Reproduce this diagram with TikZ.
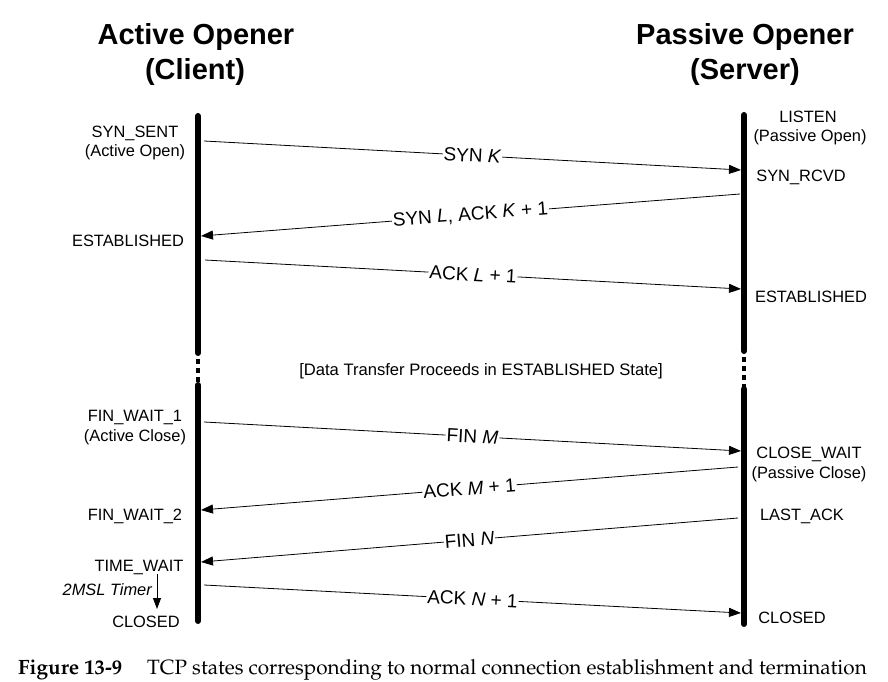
\documentclass[tikz,border=0pt]{standalone}
\usepackage[T1]{fontenc}
\usepackage{fontspec}
\setmainfont{Liberation Sans}
\usetikzlibrary{arrows.meta}
\newcommand{\figcapfont}{\fontencoding{T1}\fontfamily{ppl}\selectfont}

\begin{document}
\begin{tikzpicture}[x=1pt, y=-1pt,
  host/.style={font=\fontsize{29}{33}\selectfont\bfseries, inner sep=0pt, anchor=base},
  state/.style={font=\fontsize{16.4}{20}\selectfont, inner sep=0pt, anchor=base},
  timeline/.style={line width=6pt, line cap=round},
  gap/.style={line width=3.5pt, dash pattern=on 5pt off 4pt},
  msg/.style={-{Triangle[length=12pt,width=9pt]}, line width=0.8pt},
  msglabel/.style={font=\fontsize{19}{22}\selectfont, fill=white, inner sep=1pt, sloped, midway},
  figcap/.style={font=\figcapfont\fontsize{20.7}{24}\selectfont, inner sep=0pt, anchor=base west}]

\useasboundingbox (0,0) rectangle (888,682);

\node[host] (clienthead) at (196,45) {Active Opener};
\node[host] (clientsub) at (195,80) {(Client)};
\node[host] (serverhead) at (745,45) {Passive Opener};
\node[host] (serversub) at (745,80) {(Server)};

% time lines
\coordinate (ctop) at (198,116);
\coordinate (cbreak1) at (198,350);
\coordinate (cbreak2) at (198,388);
\coordinate (cend) at (198,621);
\coordinate (stop) at (744,115);
\coordinate (sbreak1) at (744,348);
\coordinate (sbreak2) at (744,392);
\coordinate (send) at (744,624);

\draw[timeline] (ctop) -- ([yshift=-3pt]cbreak1);
\draw[gap] (cbreak1) -- (cbreak2);
\draw[timeline] ([yshift=3pt]cbreak2) -- (cend);
\draw[timeline] (stop) -- ([yshift=-3pt]sbreak1);
\draw[gap] (sbreak1) -- (sbreak2);
\draw[timeline] ([yshift=3pt]sbreak2) -- (send);

% client states
\node[state] (synsent) at (135,137) {SYN\_SENT};
\node[state] (activeopen) at (135,157) {(Active Open)};
\node[state] (cestab) at (128,246) {ESTABLISHED};
\node[state] (finwait1) at (135,421) {FIN\_WAIT\_1};
\node[state] (activeclose) at (135,441) {(Active Close)};
\node[state] (finwait2) at (135,520) {FIN\_WAIT\_2};
\node[state] (timewait) at (139,571) {TIME\_WAIT};
\node[state, font=\fontsize{16.4}{20}\selectfont\itshape, anchor=base east] (timer) at (152,595) {2MSL Timer};
\node[state] (cclosed) at (146,627) {CLOSED};

% server states
\node[state] (listen) at (808,122) {LISTEN};
\node[state] (passiveopen) at (810,142) {(Passive Open)};
\node[state] (synrcvd) at (801,181) {SYN\_RCVD};
\node[state] (sestab) at (811,302) {ESTABLISHED};
\node[state] (closewait) at (809,458) {CLOSE\_WAIT};
\node[state] (passiveclose) at (809,478) {(Passive Close)};
\node[state] (lastack) at (802,520) {LAST\_ACK};
\node[state] (sclosed) at (792,623) {CLOSED};

\node[state, font=\fontsize{16.6}{20}\selectfont] (datatransfer) at (481,375) {[Data Transfer Proceeds in ESTABLISHED State]};

% message end points
\coordinate (c1) at (204,141);
\coordinate (s1) at (741,170);
\coordinate (s2) at (740,194);
\coordinate (c2) at (201,236);
\coordinate (c3) at (205,260);
\coordinate (s3) at (741,289);
\coordinate (c4) at (204,422);
\coordinate (s4) at (741,451);
\coordinate (s5) at (738,467);
\coordinate (c5) at (201,510);
\coordinate (s6) at (738,518);
\coordinate (c6) at (201,562);
\coordinate (c7) at (204,585);
\coordinate (s7) at (741,613);

\draw[msg] (c1) -- node[msglabel] {SYN \textit{K}} (s1);
\draw[msg] (s2) -- node[msglabel] {SYN \textit{L}, ACK \textit{K} + 1} (c2);
\draw[msg] (c3) -- node[msglabel] {ACK \textit{L} + 1} (s3);
\draw[msg] (c4) -- node[msglabel] {FIN \textit{M}} (s4);
\draw[msg] (s5) -- node[msglabel] {ACK \textit{M} + 1} (c5);
\draw[msg] (s6) -- node[msglabel] {FIN \textit{N}} (c6);
\draw[msg] (c7) -- node[msglabel] {ACK \textit{N} + 1} (s7);

% 2MSL timer
\coordinate (timerstart) at (157,574);
\coordinate (timerend) at (157,609);
\draw[-{Triangle[length=11pt,width=8pt]}, line width=0.8pt] (timerstart) -- (timerend);

\node[figcap] (fignum) at (18,674) {\bfseries Figure 13-9};
\node[figcap] (figtext) at (147,674) {TCP states corresponding to normal connection establishment and termination};

\end{tikzpicture}
\end{document}
